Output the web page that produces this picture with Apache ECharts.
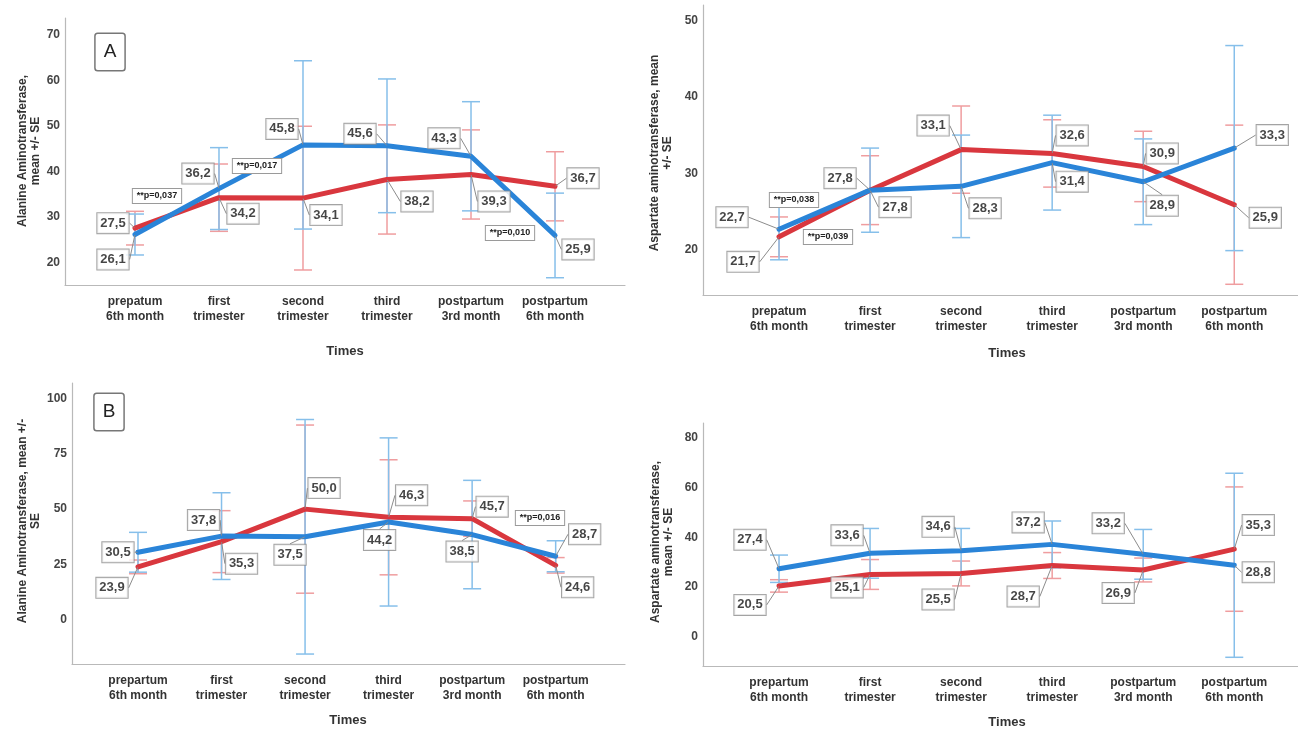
<!DOCTYPE html>
<html>
<head>
<meta charset="utf-8">
<script src="https://cdn.jsdelivr.net/npm/echarts@6/dist/echarts.min.js"></script>
<style>
  html, body { margin: 0; padding: 0; background: #fff; }
  #chart { width: 1298px; height: 732px; }
</style>
</head>
<body>
<div id="chart"></div>
<script>
// ---- categories ----
const timesTop = ['prepatum\n6th month', 'first\ntrimester', 'second\ntrimester', 'third\ntrimester', 'postpartum\n3rd month', 'postpartum\n6th month'];
const timesBottom = ['prepartum\n6th month', 'first\ntrimester', 'second\ntrimester', 'third\ntrimester', 'postpartum\n3rd month', 'postpartum\n6th month'];

// ---- ALT, panel A (mean and SE) ----
const altA_red = [27.5, 34.2, 34.1, 38.2, 39.3, 36.7];
const altA_redSE = [3.7, 7.4, 15.8, 12.0, 9.8, 7.6];
const altA_blue = [26.1, 36.2, 45.8, 45.6, 43.3, 25.9];
const altA_blueSE = [4.5, 9.0, 18.5, 14.7, 12.0, 9.3];

// ---- AST, panel A ----
const astA_red = [21.7, 27.8, 33.1, 32.6, 30.9, 25.9];
const astA_redSE = [2.6, 4.5, 5.7, 4.4, 4.6, 10.4];
const astA_blue = [22.7, 27.8, 28.3, 31.4, 28.9, 33.3];
const astA_blueSE = [4.0, 5.5, 6.7, 6.2, 5.6, 13.4];

// ---- ALT, panel B ----
const altB_red = [23.9, 35.3, 50.0, 46.3, 45.7, 24.6];
const altB_redSE = [3.1, 14.0, 38.0, 26.0, 8.0, 3.5];
const altB_blue = [30.5, 37.8, 37.5, 44.2, 38.5, 28.7];
const altB_blueSE = [9.0, 19.6, 53.0, 38.0, 24.5, 7.0];

// ---- AST, panel B ----
const astB_red = [20.5, 25.1, 25.5, 28.7, 26.9, 35.3];
const astB_redSE = [2.5, 6.0, 5.0, 5.2, 4.8, 25.0];
const astB_blue = [27.4, 33.6, 34.6, 37.2, 33.2, 28.8];
const astB_blueSE = [5.5, 10.0, 9.0, 9.4, 10.0, 37.0];

// ---- y tick labels ----
const ticksAltA = [20, 30, 40, 50, 60, 70];
const ticksAstA = [20, 30, 40, 50];
const ticksAltB = [0, 25, 50, 75, 100];
const ticksAstB = [0, 20, 40, 60, 80];

// ---- significance notes ----
const notesAltA = ['**p=0,037', '**p=0,017', '**p=0,010'];
const notesAstA = ['**p=0,038', '**p=0,039'];
const notesAltB = ['**p=0,016'];

// ---- styling / layout ----
const RED = '#d9373e';
const BLUE = '#2a84d8';
const RED_BAR = '#ef9d9f';
const BLUE_BAR = '#86bfea';
const FONT = 'Liberation Sans';

const panels = [
  { grid: { left: 65, top: 18, width: 560, height: 267 }, x: [-0.833, 5.833], y: [15, 73.7],
    cats: timesTop, ticks: ticksAltA,
    red: altA_red, redSE: altA_redSE, blue: altA_blue, blueSE: altA_blueSE,
    redOff: [[-22, -5], [24, 16], [23, 17], [30, 22], [23, 27], [28, -8]],
    blueOff: [[-22, 25], [-21, -15], [-21, -16], [-27, -12], [-27, -18], [23, 14]] },
  { grid: { left: 703, top: 5, width: 595, height: 290 }, x: [-0.835, 5.70], y: [14.1, 52],
    cats: timesTop, ticks: ticksAstA,
    red: astA_red, redSE: astA_redSE, blue: astA_blue, blueSE: astA_blueSE,
    redOff: [[-36, 25], [-30, -12], [-28, -24], [20, -18], [19, -13], [31, 13]],
    blueOff: [[-47, -12], [25, 17], [24, 22], [20, 19], [19, 24], [38, -13]] },
  { grid: { left: 72, top: 383, width: 553, height: 281 }, x: [-0.79, 5.83], y: [-20, 107],
    cats: timesBottom, ticks: ticksAltB,
    red: altB_red, redSE: altB_redSE, blue: altB_blue, blueSE: altB_blueSE,
    redOff: [[-26, 21], [20, 22], [19, -21], [23, -22], [20, -12], [22, 22]],
    blueOff: [[-20, 0], [-18, -16], [-15, 18], [-9, 18], [-10, 17], [29, -22]] },
  { grid: { left: 703, top: 423, width: 595, height: 243 }, x: [-0.835, 5.70], y: [-11.7, 86],
    cats: timesBottom, ticks: ticksAstB,
    red: astB_red, redSE: astB_redSE, blue: astB_blue, blueSE: astB_blueSE,
    redOff: [[-29, 19], [-23, 13], [-23, 26], [-29, 31], [-25, 23], [24, -24]],
    blueOff: [[-29, -29], [-23, -18], [-23, -24], [-24, -22], [-35, -31], [24, 7]] }
];

const fmt = v => v.toFixed(1).replace('.', ',');

function errorBarRender(color) {
  return function (params, api) {
    const x = api.value(0);
    const lo = api.coord([x, api.value(1)]);
    const hi = api.coord([x, api.value(2)]);
    const h = 9;
    const style = { stroke: color, lineWidth: 1.5 };
    return {
      type: 'group',
      children: [
        { type: 'line', shape: { x1: lo[0], y1: lo[1], x2: hi[0], y2: hi[1] }, style },
        { type: 'line', shape: { x1: lo[0] - h, y1: lo[1], x2: lo[0] + h, y2: lo[1] }, style },
        { type: 'line', shape: { x1: hi[0] - h, y1: hi[1], x2: hi[0] + h, y2: hi[1] }, style }
      ]
    };
  };
}

const grids = [], xAxes = [], yAxes = [], series = [];

panels.forEach((p, k) => {
  grids.push(Object.assign({ containLabel: false }, p.grid));
  xAxes.push({
    type: 'value', gridIndex: k, min: p.x[0], max: p.x[1],
    axisLine: { show: true, onZero: false, lineStyle: { color: '#b9b9b9', width: 1.2 } },
    axisTick: { show: false }, splitLine: { show: false },
    axisLabel: {
      customValues: [0, 1, 2, 3, 4, 5],
      formatter: v => p.cats[Math.round(v)],
      fontFamily: FONT, fontSize: 12, fontWeight: 'bold', color: '#333', lineHeight: 15, margin: 9
    }
  });
  yAxes.push({
    type: 'value', gridIndex: k, min: p.y[0], max: p.y[1],
    axisLine: { show: true, onZero: false, lineStyle: { color: '#b9b9b9', width: 1.2 } },
    axisTick: { show: false }, splitLine: { show: false },
    axisLabel: {
      customValues: p.ticks,
      fontFamily: FONT, fontSize: 12, fontWeight: 'bold', color: '#444', margin: 5
    }
  });

  const groups = [
    { vals: p.red, se: p.redSE, off: p.redOff, line: RED, bar: RED_BAR },
    { vals: p.blue, se: p.blueSE, off: p.blueOff, line: BLUE, bar: BLUE_BAR }
  ];
  groups.forEach(g => {
    series.push({
      type: 'custom', xAxisIndex: k, yAxisIndex: k, z: 1,
      renderItem: errorBarRender(g.bar),
      encode: { x: 0, y: [1, 2] },
      data: g.vals.map((m, i) => [i, m - g.se[i], m + g.se[i]]),
      silent: true
    });
  });
  groups.forEach(g => {
    series.push({
      type: 'line', xAxisIndex: k, yAxisIndex: k, z: 3,
      symbol: 'none', silent: true,
      lineStyle: { color: g.line, width: 5, cap: 'round', join: 'round' },
      data: g.vals.map((m, i) => [i, m])
    });
  });
  groups.forEach(g => {
    series.push({
      type: 'scatter', xAxisIndex: k, yAxisIndex: k, z: 5,
      symbolSize: 1, itemStyle: { color: 'rgba(0,0,0,0)' }, silent: true,
      data: g.vals.map((m, i) => [i, m]),
      label: {
        show: true, position: 'inside',
        formatter: q => fmt(q.value[1]),
        fontFamily: FONT, fontSize: 13, fontWeight: 'bold', color: '#161616',
        backgroundColor: '#ffffff', borderColor: '#8c8c8c', borderWidth: 1,
        padding: [4, 3, 3, 3]
      },
      labelLine: { show: true, lineStyle: { color: '#8c8c8c', width: 1 } },
      labelLayout: q => ({ dx: g.off[q.dataIndex][0], dy: g.off[q.dataIndex][1] })
    });
  });
});

function noteBox(text, cx, cy) {
  return {
    type: 'text', x: cx, y: cy, z: 10,
    style: {
      text, align: 'center', verticalAlign: 'middle',
      font: 'bold 9px "' + FONT + '"', fill: '#222',
      backgroundColor: '#fff', borderColor: '#9a9a9a', borderWidth: 1,
      padding: [3, 4, 2, 4]
    }
  };
}
function letterBox(text, cx, cy) {
  return {
    type: 'text', x: cx, y: cy, z: 10,
    style: {
      text, align: 'center', verticalAlign: 'middle',
      font: '19px "' + FONT + '"', fill: '#222',
      backgroundColor: '#fff', borderColor: '#777', borderWidth: 1.5,
      padding: [9, 8, 8, 8], borderRadius: 2
    }
  };
}
function axisTitle(text, cx, cy) {
  return {
    type: 'text', x: cx, y: cy, rotation: Math.PI / 2, z: 10,
    style: {
      text, align: 'center', verticalAlign: 'middle',
      font: 'bold 12px "' + FONT + '"', fill: '#333', lineHeight: 13
    }
  };
}
function xTitle(cx, cy) {
  return {
    type: 'text', x: cx, y: cy, z: 10,
    style: { text: 'Times', align: 'center', verticalAlign: 'middle', font: 'bold 13px "' + FONT + '"', fill: '#333' }
  };
}

const graphics = [
  letterBox('A', 110, 52),
  letterBox('B', 109, 412),
  noteBox(notesAltA[0], 157, 196),
  noteBox(notesAltA[1], 257, 166),
  noteBox(notesAltA[2], 510, 233),
  noteBox(notesAstA[0], 794, 200),
  noteBox(notesAstA[1], 828, 237),
  noteBox(notesAltB[0], 540, 518),
  axisTitle('Alanine Aminotransferase,\nmean +/- SE', 29, 151),
  axisTitle('Aspartate aminotransferase, mean\n+/- SE', 661, 153),
  axisTitle('Alanine Aminotransferase, mean +/-\nSE', 29, 521),
  axisTitle('Aspartate aminotransferase,\nmean +/- SE', 662, 542),
  xTitle(345, 351),
  xTitle(1007, 353),
  xTitle(348, 720),
  xTitle(1007, 722)
];

const chart = echarts.init(document.getElementById('chart'), null, { renderer: 'canvas' });
chart.setOption({
  animation: false,
  backgroundColor: '#ffffff',
  grid: grids,
  xAxis: xAxes,
  yAxis: yAxes,
  series,
  graphic: graphics
});
</script>
</body>
</html>
